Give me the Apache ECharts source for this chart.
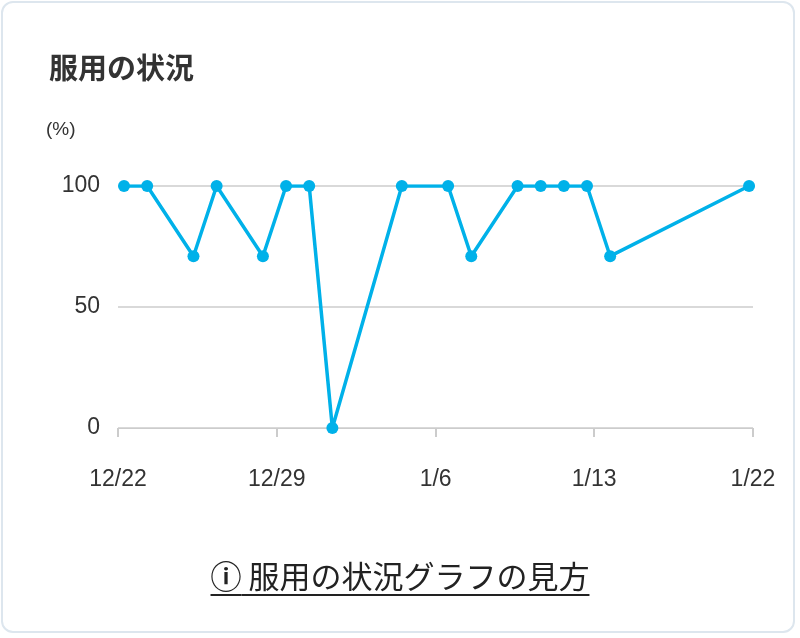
<!DOCTYPE html><html><head><meta charset="utf-8">
<script src="https://cdn.jsdelivr.net/npm/echarts@6/dist/echarts.min.js"></script>
<style>body{margin:0;background:#fff;font-family:"Noto Sans CJK JP",sans-serif}
#card{position:absolute;left:1px;top:1px;width:794px;height:632px;border:2px solid #dde6ee;border-radius:12px;box-sizing:border-box}
#c{position:absolute;left:0;top:0;width:800px;height:638px}
#link{position:absolute;left:0;width:800px;top:552px;text-align:center;font-size:31px;color:#222}
#link span{text-decoration:underline;text-underline-offset:6px;text-decoration-thickness:2px}
</style></head><body><div id="card"></div><div id="c"></div>
<div id="link"><span><b>ⓘ</b> 服用の状況グラフの見方</span></div>
<script>
const dayOffsets=[0,1,3,4,6,7,8,9,12,14,15,17,18,19,20,21,27];
const values=[100,100,71,100,71,100,100,0,100,100,71,100,100,100,100,71,100];
const tickLabels=['12/22','12/29','1/6','1/13','1/22'];
const tickPos=[-0.26,6.6,13.46,20.31,27.17];
const ch=echarts.init(document.getElementById('c'));
const f='"Noto Sans CJK JP",sans-serif';
const lf='"Liberation Sans","Noto Sans",sans-serif';
ch.setOption({
 title:{text:'服用の状況',left:44,top:48,textStyle:{fontSize:29,fontWeight:'bold',color:'#333',fontFamily:f}},
 graphic:[{type:'text',left:46,top:120,style:{text:'(%)',fontSize:19,fill:'#333',fontFamily:lf}}],
 grid:{left:118,right:47,top:186,bottom:210,containLabel:false,outerBoundsMode:'none'},
 xAxis:{type:'value',min:-0.26,max:27.17,splitLine:{show:false},axisLine:{show:true,lineStyle:{color:'#ccc'}},
  axisTick:{show:true,customValues:tickPos,length:9,lineStyle:{color:'#ccc',width:2}},
  axisLabel:{customValues:tickPos,margin:40,fontSize:23,color:'#333',fontFamily:lf,
   formatter:v=>tickLabels[tickPos.findIndex(p=>Math.abs(p-v)<0.01)]||''}},
 yAxis:{type:'value',min:0,max:100,interval:50,
  axisLine:{show:false},axisTick:{show:false},splitLine:{lineStyle:{color:'#ccc',width:1.5}},
  axisLabel:{fontSize:23,color:'#333',margin:18,fontFamily:lf}},
 series:[{type:'line',data:dayOffsets.map((d,i)=>[d,values[i]]),symbol:'circle',symbolSize:12,
  lineStyle:{width:3.5,color:'#00b1e9'},itemStyle:{color:'#00b1e9'},animation:false}]
});
</script></body></html>
